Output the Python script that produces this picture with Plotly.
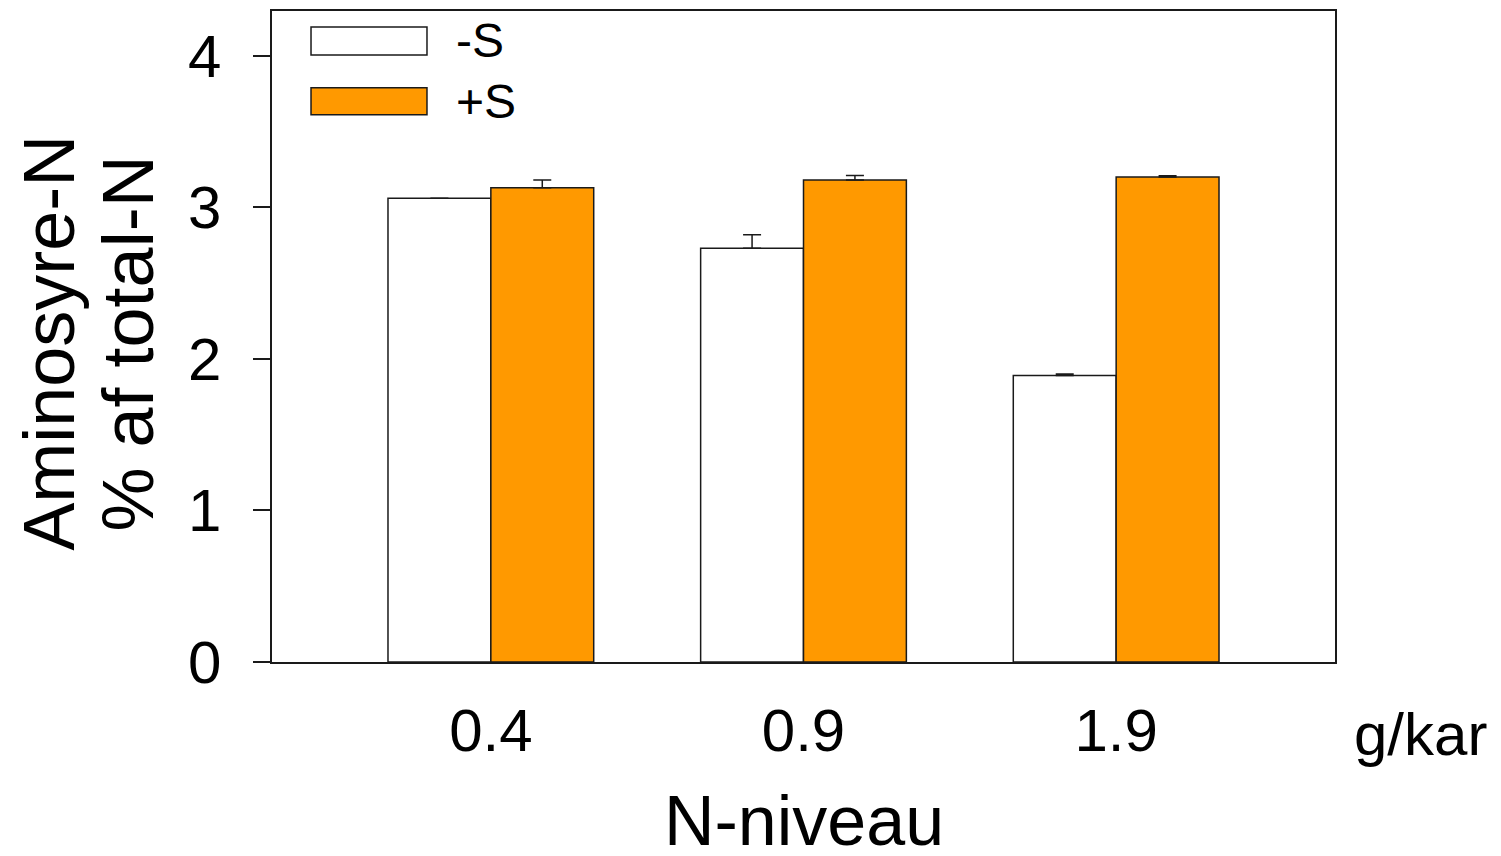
import plotly.graph_objects as go

categories = ["0.4", "0.9", "1.9"]
series_names = ["-S", "+S"]
minus_s = [3.06, 2.73, 1.89]
minus_s_err = [0.0, 0.09, 0.01]
plus_s = [3.13, 3.18, 3.20]
plus_s_err = [0.05, 0.03, 0.008]
y_ticks = [0, 1, 2, 3, 4]

FONT = "Liberation Sans, Arial, sans-serif"
ORANGE = "#FF9900"
EDGE = "#1a1a1a"

fig = go.Figure()
x_idx = list(range(len(categories)))
for name, vals, errs, color in [
    (series_names[0], minus_s, minus_s_err, "white"),
    (series_names[1], plus_s, plus_s_err, ORANGE),
]:
    fig.add_trace(go.Bar(
        x=x_idx, y=vals, name=name,
        marker=dict(color=color, line=dict(color=EDGE, width=1.5)),
        error_y=dict(type="data", array=errs, arrayminus=[0] * len(errs),
                     symmetric=False, color=EDGE, thickness=1.5, width=9),
        showlegend=False,
    ))

fig.update_layout(
    width=1501, height=856,
    margin=dict(l=272, r=166, t=9, b=194),
    paper_bgcolor="white", plot_bgcolor="white",
    barmode="group", bargap=0.342, bargroupgap=0,
    font=dict(family=FONT, color="black"),
    xaxis=dict(
        range=[-0.7, 2.7], tickmode="array", tickvals=x_idx, ticktext=categories,
        showline=True, mirror=True, linecolor=EDGE, linewidth=1.5,
        ticks="", showgrid=False, zeroline=False,
        tickfont=dict(size=60, family=FONT, color="black"),
        ticklabelstandoff=15,
    ),
    yaxis=dict(
        range=[0, 4.296], tickmode="array", tickvals=y_ticks,
        ticktext=[str(v) for v in y_ticks],
        showline=True, mirror=True, linecolor=EDGE, linewidth=1.5,
        ticks="outside", ticklen=17, tickwidth=1.5, tickcolor=EDGE,
        showgrid=False, zeroline=False,
        tickfont=dict(size=60, family=FONT, color="black"),
        ticklabelstandoff=20,
    ),
)

# Axis titles
fig.add_annotation(text="N-niveau", xref="paper", yref="paper", x=0.5, y=-0.245,
                   xanchor="center", yanchor="middle", showarrow=False,
                   font=dict(size=70, family=FONT, color="black"))
fig.add_annotation(text="g/kar", xref="paper", yref="paper", x=1.08, y=-0.112,
                   xanchor="center", yanchor="middle", showarrow=False,
                   font=dict(size=60, family=FONT, color="black"))
fig.add_annotation(text="Aminosyre-N", xref="paper", yref="paper", x=-0.21, y=0.49,
                   xanchor="center", yanchor="middle", showarrow=False, textangle=-90,
                   font=dict(size=72, family=FONT, color="black"))
fig.add_annotation(text="% af total-N", xref="paper", yref="paper", x=-0.135, y=0.49,
                   xanchor="center", yanchor="middle", showarrow=False, textangle=-90,
                   font=dict(size=72, family=FONT, color="black"))

# Legend (drawn manually for large swatches)
legend_items = [(series_names[0], "white", 0.9755, 0.9326, 0.954),
                (series_names[1], ORANGE, 0.8821, 0.8407, 0.861)]
for name, color, y1, y0, yc in legend_items:
    fig.add_shape(type="rect", xref="paper", yref="paper",
                  x0=0.0367, x1=0.1458, y0=y0, y1=y1,
                  fillcolor=color, line=dict(color=EDGE, width=1.5))
    fig.add_annotation(text=name, xref="paper", yref="paper", x=0.171, y=yc,
                       xanchor="left", yanchor="middle", showarrow=False,
                       font=dict(size=48, family=FONT, color="black"))

fig.write_html("out.html")
